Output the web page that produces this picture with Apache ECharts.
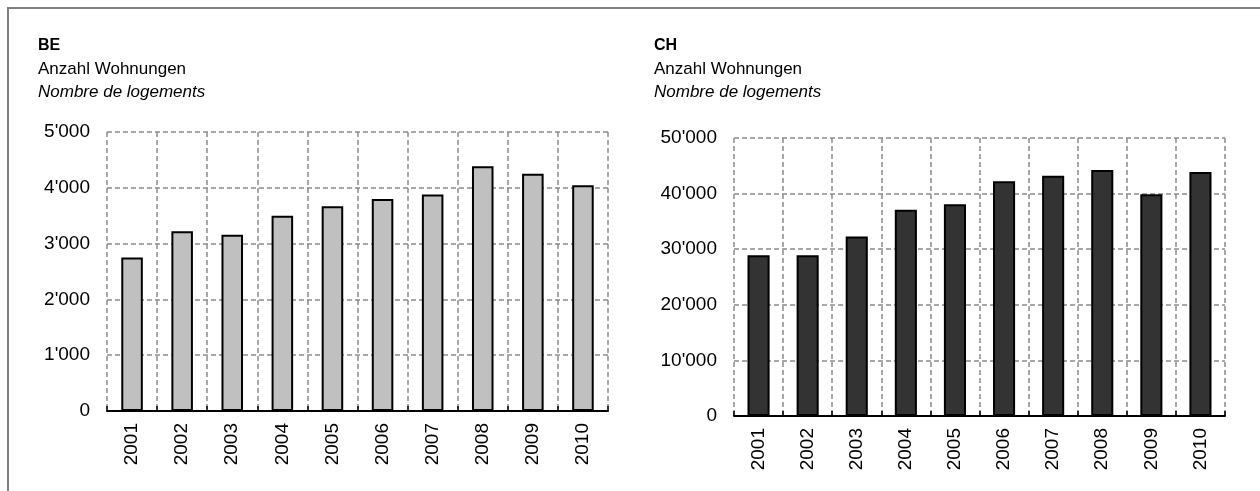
<!DOCTYPE html>
<html lang="de">
<head>
    <meta charset="UTF-8">
    <title>Anzahl Wohnungen BE / CH</title>
    <script src="https://cdn.jsdelivr.net/npm/echarts@6/dist/echarts.min.js"></script>
    <style>
        html, body { margin: 0; padding: 0; background: #fff; }
        #main { width: 1260px; height: 491px; }
    </style>
</head>
<body>
    <div id="main"></div>
    <script type="text/javascript">
        // Jahre / années
        var years = ['2001', '2002', '2003', '2004', '2005', '2006', '2007', '2008', '2009', '2010'];
        // Anzahl Wohnungen, Kanton Bern
        var beValues = [2750, 3220, 3160, 3500, 3670, 3800, 3880, 4385, 4250, 4045];
        // Anzahl Wohnungen, Schweiz
        var chValues = [28900, 28900, 32300, 37100, 38100, 42200, 43200, 44250, 39900, 43900];
        var beAxis = { min: 0, max: 5000, step: 1000 };
        var chAxis = { min: 0, max: 50000, step: 10000 };
        var titles = [
            { code: 'BE', de: 'Anzahl Wohnungen', fr: 'Nombre de logements' },
            { code: 'CH', de: 'Anzahl Wohnungen', fr: 'Nombre de logements' }
        ];

        var font = 'Liberation Sans, Arial, sans-serif';
        var dash = { type: [5, 3], color: '#8c8c8c', width: 1.5 };

        function fmt(v) {
            // 5000 -> 5'000
            return String(v).replace(/\B(?=(\d{3})+(?!\d))/g, "'");
        }

        function titleBlock(t, x) {
            return [
                { text: t.code, left: x, top: 33, textStyle: { fontFamily: font, fontSize: 16, fontWeight: 'bold', color: '#000' } },
                { text: t.de, left: x, top: 56, textStyle: { fontFamily: font, fontSize: 17, fontWeight: 'normal', color: '#000' } },
                { text: t.fr, left: x, top: 79, textStyle: { fontFamily: font, fontSize: 17, fontWeight: 'normal', fontStyle: 'italic', color: '#000' } }
            ];
        }

        function xAxisFor(i) {
            return {
                type: 'category',
                gridIndex: i,
                data: years,
                axisLine: { lineStyle: { color: '#000', width: 2 } },
                axisTick: { show: true, inside: true, length: 5, lineStyle: { color: '#000', width: 1.5 } },
                axisLabel: { rotate: 90, margin: 12, fontFamily: font, fontSize: 19, color: '#000' },
                splitLine: { show: true, interval: 0, lineStyle: dash }
            };
        }

        function yAxisFor(i, ax) {
            return {
                type: 'value',
                gridIndex: i,
                min: ax.min,
                max: ax.max,
                interval: ax.step,
                axisLine: { show: false },
                axisTick: { show: false },
                axisLabel: { margin: 17, fontFamily: font, fontSize: 19, color: '#000', formatter: fmt },
                splitLine: { show: true, lineStyle: dash }
            };
        }

        var myChart = echarts.init(document.getElementById('main'));
        var option = {
            backgroundColor: '#fff',
            animation: false,
            title: titleBlock(titles[0], 33).concat(titleBlock(titles[1], 649)),
            graphic: [
                {   // Rahmen
                    type: 'rect',
                    shape: { x: 8, y: 8, width: 1270, height: 520 },
                    style: { fill: 'none', stroke: '#808080', lineWidth: 2 },
                    silent: true
                }
            ],
            grid: [
                { left: 107, top: 132, width: 501, height: 279 },
                { left: 734, top: 138, width: 491, height: 278 }
            ],
            xAxis: [xAxisFor(0), xAxisFor(1)],
            yAxis: [yAxisFor(0, beAxis), yAxisFor(1, chAxis)],
            series: [
                {
                    name: 'BE',
                    type: 'bar',
                    xAxisIndex: 0,
                    yAxisIndex: 0,
                    barWidth: '43%',
                    itemStyle: { color: '#c0c0c0', borderColor: '#000', borderWidth: 2 },
                    data: beValues
                },
                {
                    name: 'CH',
                    type: 'bar',
                    xAxisIndex: 1,
                    yAxisIndex: 1,
                    barWidth: '45%',
                    itemStyle: { color: '#333333', borderColor: '#000', borderWidth: 2 },
                    data: chValues
                }
            ]
        };
        myChart.setOption(option);
    </script>
</body>
</html>
